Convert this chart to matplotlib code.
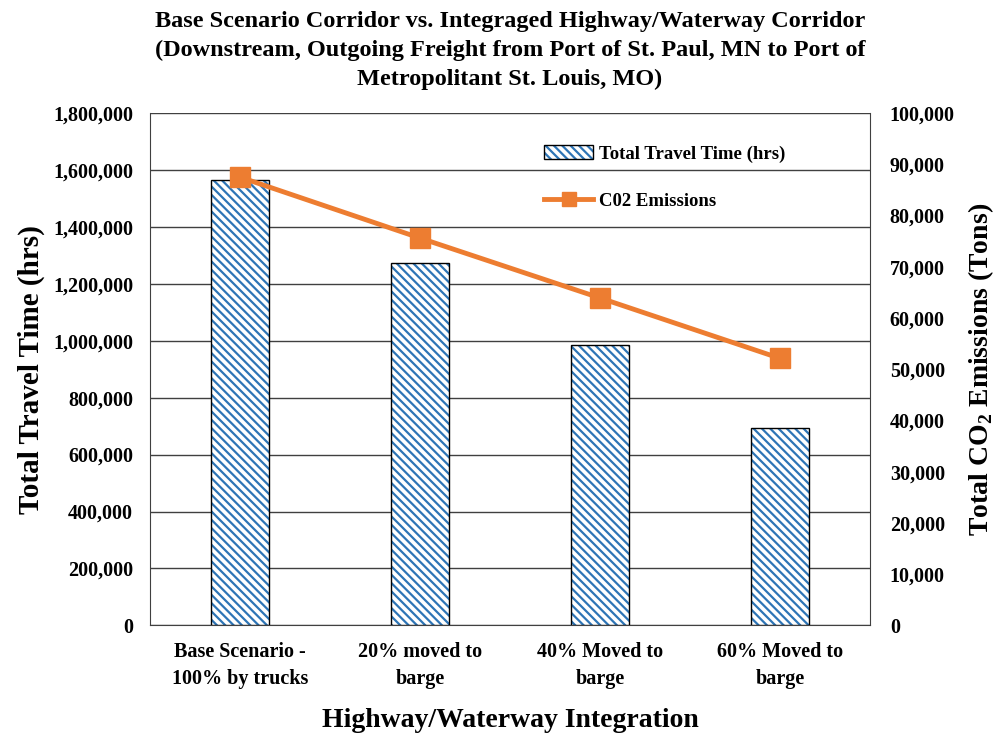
import matplotlib.pyplot as plt
from matplotlib.ticker import FuncFormatter

plt.rcParams['font.family'] = ['Liberation Serif', 'DejaVu Serif']
plt.rcParams['font.weight'] = 'bold'
plt.rcParams['axes.labelweight'] = 'bold'
plt.rcParams['axes.titleweight'] = 'bold'
plt.rcParams['mathtext.fontset'] = 'custom'
plt.rcParams['mathtext.rm'] = 'Liberation Serif:bold'
plt.rcParams['mathtext.bf'] = 'Liberation Serif:bold'
plt.rcParams['hatch.linewidth'] = 1.6

# データ
categories = ['Base Scenario -\n100% by trucks', '20% moved to\nbarge',
              '40% Moved to\nbarge', '60% Moved to\nbarge']
travel_time = [1564000, 1273000, 984000, 692000]
co2 = [87500, 75600, 63900, 52100]

fig, ax = plt.subplots(figsize=(10.05, 7.34), dpi=100)
fig.subplots_adjust(left=0.149, right=0.866, top=0.846, bottom=0.148)

x = range(len(categories))
# 斜線（青）と枠線（黒）を重ねる
bars_h = ax.bar(x, travel_time, width=0.32, color='white', edgecolor='#2E75B6',
                linewidth=0, hatch='\\\\\\\\', zorder=3)
bars_e = ax.bar(x, travel_time, width=0.32, fill=False, edgecolor='black',
                linewidth=1.0, zorder=3.1)

ax.set_ylim(0, 1800000)
ax.set_yticks(range(0, 1800001, 200000))
ax.yaxis.set_major_formatter(FuncFormatter(lambda v, p: f'{int(v):,}'))
ax.grid(axis='y', color='#404040', linewidth=1.0, zorder=0)
ax.set_xticks(list(x))
ax.set_xticklabels(categories, fontsize=14.5, linespacing=1.45)
ax.set_xlim(-0.5, 3.5)
ax.tick_params(axis='y', labelsize=14.5, length=0, pad=12)
ax.tick_params(axis='x', length=0, pad=12)
for s in ['top', 'right']:
    ax.spines[s].set_visible(False)
ax.spines['left'].set_color('#404040')
ax.spines['bottom'].set_color('#404040')

ax2 = ax.twinx()
line, = ax2.plot(list(x), co2, color='#ED7D31', linewidth=3.5, marker='s',
                 markersize=14, label='C02 Emissions', zorder=4)
ax2.set_ylim(0, 100000)
ax2.set_yticks(range(0, 100001, 10000))
ax2.yaxis.set_major_formatter(FuncFormatter(lambda v, p: f'{int(v):,}'))
ax2.tick_params(axis='y', labelsize=14.5, length=0, pad=14)
for s in ['top', 'left']:
    ax2.spines[s].set_visible(False)
ax2.spines['right'].set_color('#404040')
ax2.spines['bottom'].set_visible(False)

ax.set_ylabel('Total Travel Time (hrs)', fontsize=21, labelpad=6)
ax2.set_ylabel('Total CO$_{2}$ Emissions (Tons)', fontsize=20, labelpad=8)
ax.set_xlabel('Highway/Waterway Integration', fontsize=20, labelpad=14)
ax.set_title('Base Scenario Corridor vs. Integraged Highway/Waterway Corridor\n'
             '(Downstream, Outgoing Freight from Port of St. Paul, MN to Port of\n'
             'Metropolitant St. Louis, MO)', fontsize=17.5, pad=20, linespacing=1.5)

ax2.legend([(bars_h[0], bars_e[0]), line], ['Total Travel Time (hrs)', 'C02 Emissions'],
           loc='upper right', bbox_to_anchor=(0.905, 0.97), frameon=False,
           fontsize=13.5, labelspacing=1.6, handlelength=2.6, handletextpad=0.3,
           markerscale=0.7)

fig.savefig('out.png', dpi=100)
